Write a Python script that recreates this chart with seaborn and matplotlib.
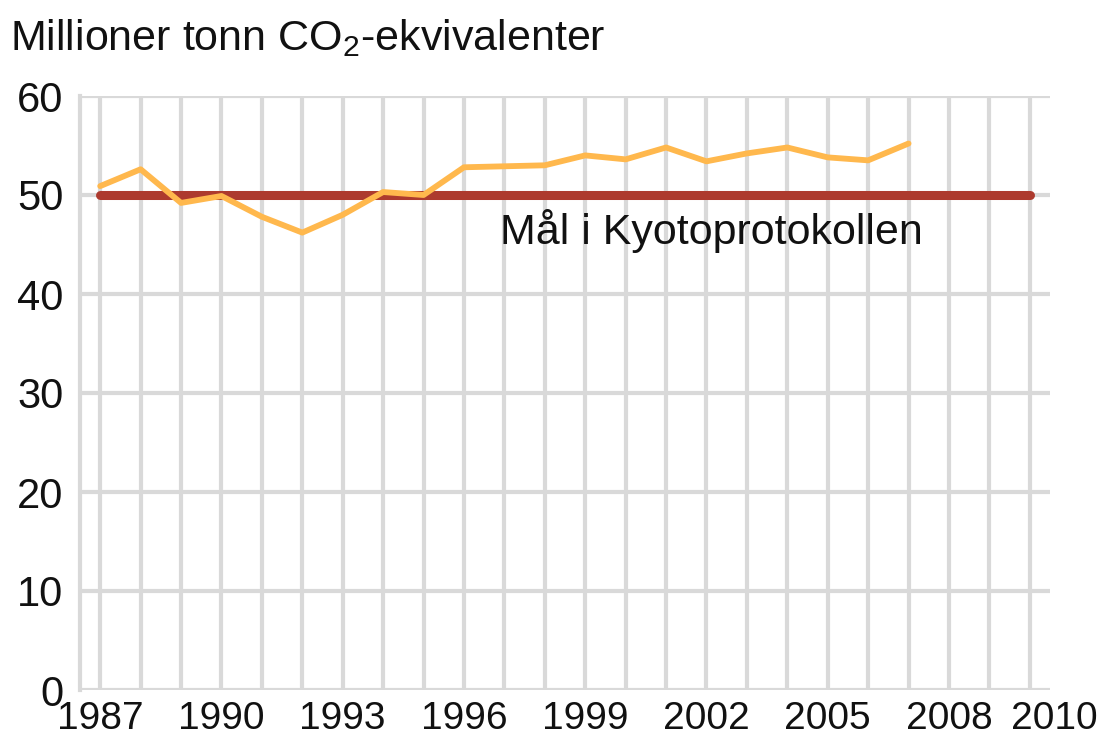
import matplotlib
matplotlib.use("Agg")
import matplotlib.pyplot as plt
import matplotlib.transforms as mtransforms
import seaborn as sns
import pandas as pd

years = [1987, 1988, 1989, 1990, 1991, 1992, 1993, 1994, 1995, 1996, 1997,
         1998, 1999, 2000, 2001, 2002, 2003, 2004, 2005, 2006, 2007]
emissions = [50.9, 52.6, 49.2, 49.9, 47.8, 46.2, 48.0, 50.3, 50.0, 52.8, 52.9,
             53.0, 54.0, 53.6, 54.8, 53.4, 54.2, 54.8, 53.8, 53.5, 55.2]
target_years = [1987, 2010]
target_values = [50, 50]
xtick_labels = [1987, 1990, 1993, 1996, 1999, 2002, 2005, 2008, 2010]
yticks = [0, 10, 20, 30, 40, 50, 60]
title = "Millioner tonn CO$_2$-ekvivalenter"
target_label = "Mål i Kyotoprotokollen"

sns.set_theme(style="white")
plt.rcParams['font.family'] = ['Liberation Sans', 'DejaVu Sans']
plt.rcParams['mathtext.default'] = 'regular'

fig = plt.figure(figsize=(11.05, 7.38), dpi=100)
ax = fig.add_axes([80/1105, 1 - 690/738, 970/1105, (690 - 96)/738])

grid_c = "#d9d9d9"
for yv in yticks:
    ax.axhline(yv, color=grid_c, lw=3, zorder=0)
for yr in range(1987, 2011):
    ax.axvline(yr, color=grid_c, lw=3, zorder=0)

df = pd.DataFrame({"year": years, "value": emissions})
tdf = pd.DataFrame({"year": target_years, "value": target_values})
sns.lineplot(data=tdf, x="year", y="value", ax=ax, color="#ad3a2e", lw=6.5, zorder=2)
sns.lineplot(data=df, x="year", y="value", ax=ax, color="#ffb84d", lw=4.2, zorder=3)

ax.set_xlim(1986.5, 2010.5)
ax.set_ylim(0, 60)
ax.set_xticks(xtick_labels)
ax.set_xticklabels([str(v) for v in xtick_labels])
ax.set_yticks(yticks)
ax.set_xlabel("")
ax.set_ylabel("")
ax.tick_params(axis="both", length=0, colors="#111111")
ax.tick_params(axis="y", pad=12, labelsize=30)
ax.tick_params(axis="x", pad=8, labelsize=28)
for s in ["top", "right", "bottom"]:
    ax.spines[s].set_visible(False)
ax.spines["left"].set_color(grid_c)
ax.spines["left"].set_linewidth(3)

# last label sits to the right of its tick, as in the reference
last = ax.get_xticklabels()[-1]
last.set_transform(last.get_transform() +
                   mtransforms.ScaledTranslation(25/100, 0, fig.dpi_scale_trans))

ax.text(1996.9, 46.4, target_label, fontsize=31, color="#111111", va="center", ha="left")
fig.text(10/1105, 1 - 50/738, title, fontsize=31, color="#111111", ha="left", va="baseline")

fig.savefig("out.png", dpi=100)
